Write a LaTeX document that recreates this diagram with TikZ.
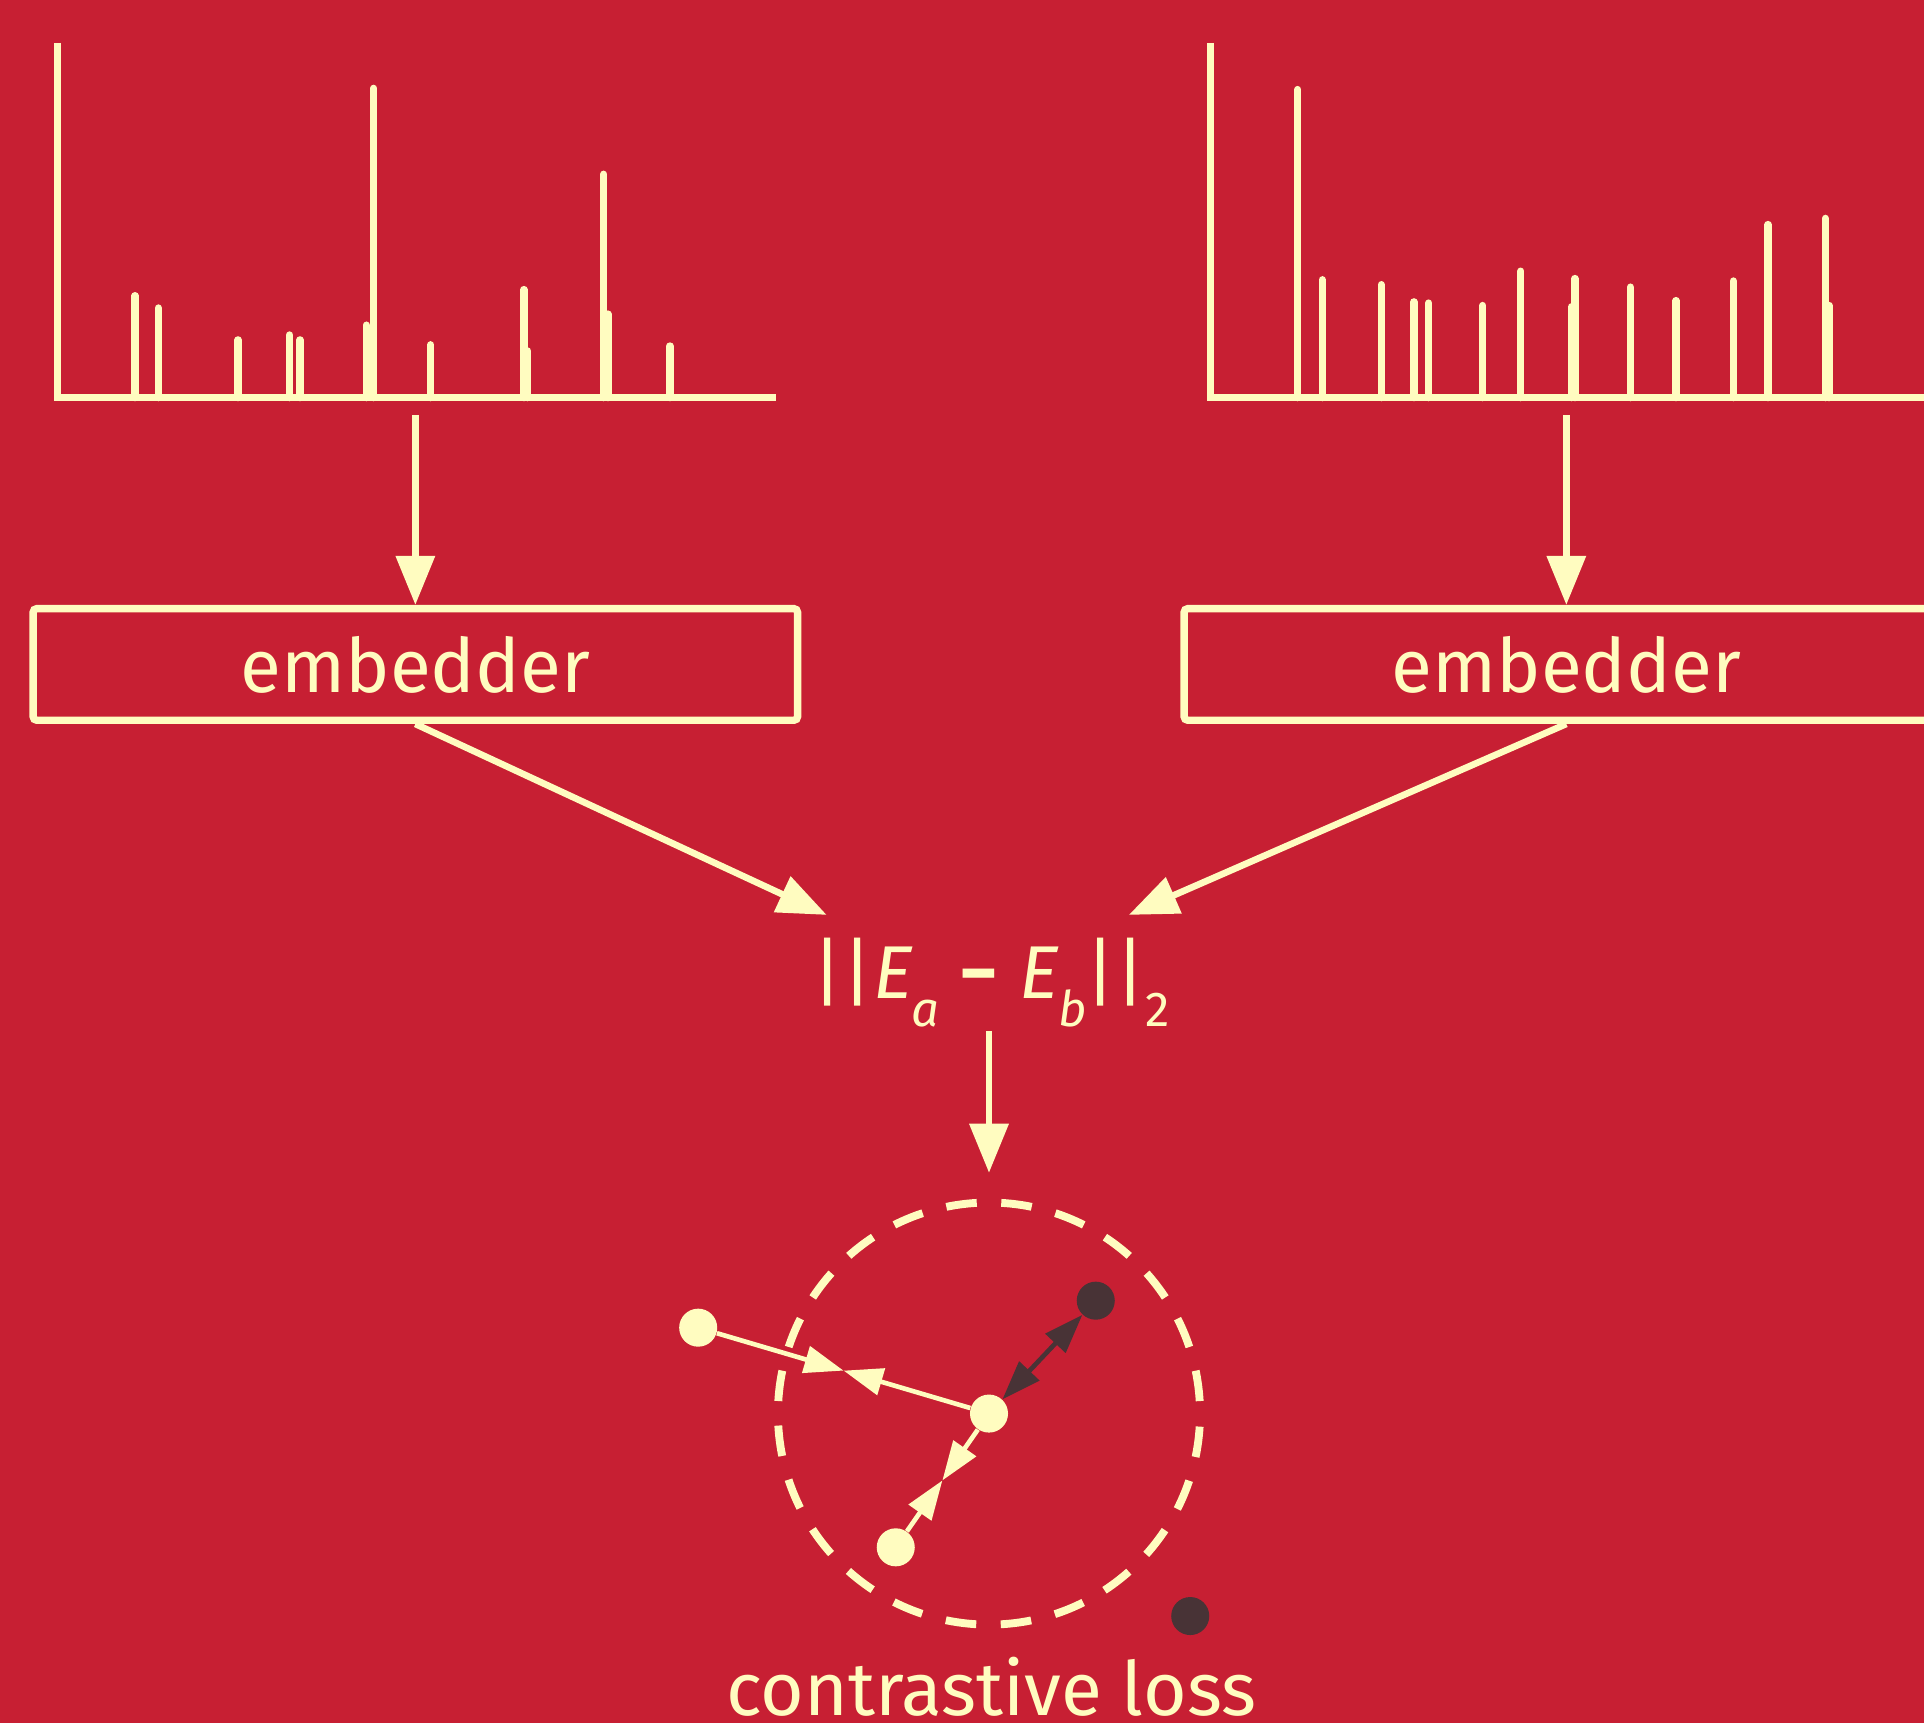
\documentclass[tikz,border=0pt]{standalone}
\usepackage{fontspec}
\setmainfont{Fira Sans}
\usetikzlibrary{arrows.meta,calc}
\definecolor{bgred}{RGB}{199,31,51}
\definecolor{cream}{RGB}{255,252,192}
\definecolor{darkdot}{RGB}{72,51,54}
\newcommand\subsz{\fontsize{20}{20}\selectfont}
\newcommand\gl[1]{\makebox[0pt][c]{#1}}
\newcommand\sub[1]{\makebox[0pt][c]{\raisebox{-11.5pt}{\subsz #1}}}
\begin{document}
\begin{tikzpicture}[x=0.5pt,y=-0.5pt,
  axisline/.style={draw=cream, line width=3pt, line join=miter},
  peak/.style={draw=cream, line width=3pt, line cap=round},
  embox/.style={draw=cream, line width=3pt, rounded corners=1.5pt, minimum width=311.5pt, minimum height=45.5pt, inner sep=0pt, text=cream, font=\fontsize{30.5}{30.5}\selectfont},
  bigarrow/.style={draw=cream, line width=2.7pt, -{Triangle[length=20pt,width=15.5pt]}},
  smallarrow/.style={draw=cream, line width=1.9pt, -{Triangle[length=16pt,width=11pt]}},
  darkarrow/.style={draw=darkdot, line width=1.9pt, {Triangle[length=16pt,width=11pt]}-{Triangle[length=16pt,width=11pt]}},
  formula/.style={inner sep=0pt, text height=33.8pt, text depth=13.2pt, text=cream, font=\fontsize{30.5}{30.5}\selectfont},
  lossring/.style={circle, draw=cream, line width=3.2pt, dash pattern=on 12.5pt off 10pt, dash phase=17.4pt, minimum size=172pt, inner sep=0pt},
  posdot/.style={circle, fill=cream, minimum size=15.5pt, inner sep=0pt},
  negdot/.style={circle, fill=darkdot, minimum size=15.5pt, inner sep=0pt},
  label/.style={text=cream, inner sep=0pt, font=\fontsize{30.5}{30.5}\selectfont}]
\fill[bgred] (0,0) rectangle (1568,1404);
\useasboundingbox (0,0) rectangle (1568,1404);

% left spectrum
\foreach \x/\t in {110/241,129/251,194/277,236/273,244.5/277,298.5/265,304.5/72,351/281,427/236,430/286,492/142,495.5/256,546/282}
  \draw[peak] (\x,324) -- (\x,\t);
\draw[axisline] (47,35) -- (47,324) -- (632,324);

% right spectrum
\foreach \x/\t in {1057.6/73,1077.7/228,1125.7/232,1152.3/246,1164.3/247,1208.4/249,1239.4/221,1283.5/227,1280.8/250,1328.7/234,1365.9/245,1412.6/229,1440.9/183,1487.6/178,1490.7/249}
  \draw[peak] (\x,324) -- (\x,\t);
\draw[axisline] (986.5,35) -- (986.5,324) -- (1600,324);

\coordinate (spec1) at (338.5,338);
\coordinate (spec2) at (1276.5,338);

\node[embox] (emb1) at (338.5,541.5) {embedder};
\node[embox] (emb2) at (1276.5,541.5) {embedder};

\draw[bigarrow] (spec1) -- (emb1.north);
\draw[bigarrow] (spec2) -- (emb2.north);

\node[formula, anchor=base west] (f) at (673.7,813.6) {\gl{|}\hspace{12.25pt}\gl{|}\hspace{14.9pt}\gl{\itshape E}\hspace{12.75pt}\sub{\itshape a}\hspace{22.1pt}\gl{\bfseries −}\hspace{24.55pt}\gl{\itshape E}\hspace{13.6pt}\sub{\itshape b}\hspace{11.25pt}\gl{|}\hspace{12.25pt}\gl{|}\hspace{11.1pt}\sub{2}};

\draw[bigarrow] (emb1.south) -- (f.north west);
\draw[bigarrow] (emb2.south) -- ($(f.north west)!0.911!(f.north east)$);

\node[lossring] (loss) at (806,1152) {};
\draw[bigarrow, shorten >=10.5pt] (f.south -| loss.north) -- (loss.north);

\node[posdot] (anc) at (806,1152) {};
\node[posdot] (pos1) at (569,1082) {};
\node[posdot] (pos2) at (730,1261) {};
\node[negdot] (neg1) at (893,1060) {};
\node[negdot] (neg2) at (970,1317) {};

\coordinate (m1) at ($(pos1)!0.5!(anc)$);
\coordinate (m2) at ($(pos2)!0.5!(anc)$);
\draw[smallarrow] (pos1) -- (m1);
\draw[smallarrow] (anc) -- (m1);
\draw[smallarrow] (pos2) -- (m2);
\draw[smallarrow] (anc) -- (m2);
\draw[darkarrow] (anc) -- (neg1);

\node[label, anchor=base] (lbl) at (808,1398) {contrastive loss};
\end{tikzpicture}
\end{document}
